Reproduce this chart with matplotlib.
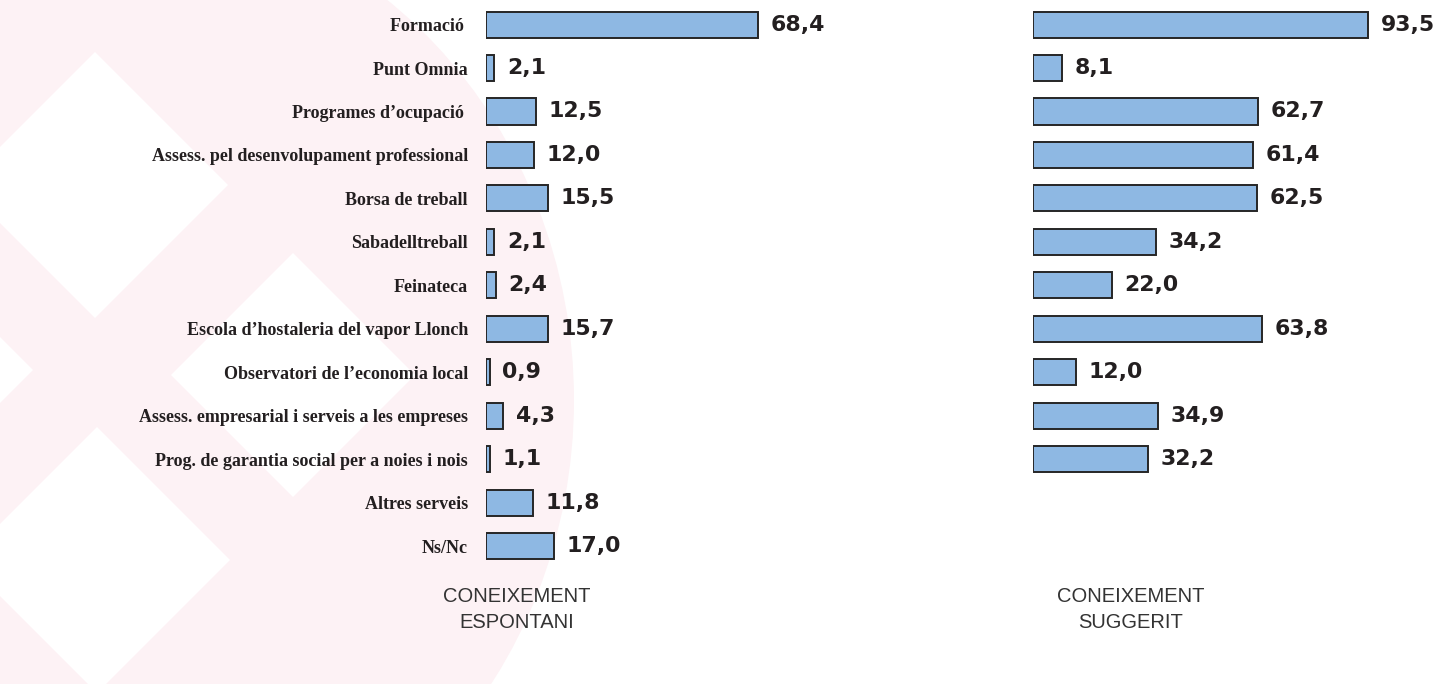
import matplotlib.pyplot as plt
from matplotlib.patches import Ellipse, Polygon

# categories (top to bottom) and percentages
categories = [
    "Formació ",
    "Punt Omnia",
    "Programes d’ocupació ",
    "Assess. pel desenvolupament professional",
    "Borsa de treball",
    "Sabadelltreball",
    "Feinateca",
    "Escola d’hostaleria del vapor Llonch",
    "Observatori de l’economia local",
    "Assess. empresarial i serveis a les empreses",
    "Prog. de garantia social per a noies i nois",
    "Altres serveis",
    "Ns/Nc",
]
espontani = [68.4, 2.1, 12.5, 12.0, 15.5, 2.1, 2.4, 15.7, 0.9, 4.3, 1.1, 11.8, 17.0]
suggerit = [93.5, 8.1, 62.7, 61.4, 62.5, 34.2, 22.0, 63.8, 12.0, 34.9, 32.2]
panel_titles = ["CONEIXEMENT\nESPONTANI", "CONEIXEMENT\nSUGGERIT"]

W, H = 1439, 684
BAR = "#8eb8e3"
EDGE = "#262626"
INK = "#231f20"

fig = plt.figure(figsize=(W / 100, H / 100), dpi=100)
fig.patch.set_facecolor("white")

# decorative watermark in the background (pixel coords)
bg = fig.add_axes([0, 0, 1, 1], zorder=0)
bg.set_xlim(0, W)
bg.set_ylim(H, 0)
bg.axis("off")
bg.add_patch(Ellipse((100, 400), 948, 1006, facecolor="#fdf2f5", edgecolor="none"))
for cx, cy, r in [(95, 185, 133), (293, 375, 122), (-90, 370, 123), (97, 560, 133)]:
    bg.add_patch(Polygon([(cx, cy - r), (cx + r, cy), (cx, cy + r), (cx - r, cy)],
                         closed=True, facecolor="white", edgecolor="none"))

# row geometry
top_c, step = 24.6, 43.45
y_top = top_c - step / 2
y_bot = top_c + 12 * step + step / 2
ax_b = 1 - y_bot / H
ax_h = (y_bot - y_top) / H


def panel(left_px, width_px, values, labels):
    ax = fig.add_axes([left_px / W, ax_b, width_px / W, ax_h], zorder=2)
    ax.patch.set_alpha(0)
    pos = list(range(len(values)))
    bars = ax.barh(pos, values, height=0.6, color=BAR, edgecolor=EDGE, linewidth=1.4)
    ax.bar_label(bars, labels=[f"{v:.1f}".replace(".", ",") for v in values],
                 padding=9, fontsize=15.8, fontweight="bold", color=INK,
                 family="DejaVu Sans")
    ax.set_xlim(0, 100)
    ax.set_ylim(12.5, -0.5)
    ax.set_xticks([])
    for s in ax.spines.values():
        s.set_visible(False)
    if labels:
        ax.set_yticks(pos)
        ax.set_yticklabels(labels, family="Liberation Serif", fontweight="bold",
                           fontsize=13, color=INK)
        ax.tick_params(axis="y", length=0, pad=13)
    else:
        ax.set_yticks([])
    return ax


panel(486, 398, espontani, categories)
panel(1033, 358.5, suggerit, None)

for xc, t in zip([517, 1131], panel_titles):
    fig.text(xc / W, 1 - 587 / H, t, ha="center", va="top", multialignment="center",
             fontsize=14.5, linespacing=1.5, color="#333333",
             family=["Liberation Sans Narrow", "Liberation Sans"])

fig.savefig("out.png", dpi=100)
